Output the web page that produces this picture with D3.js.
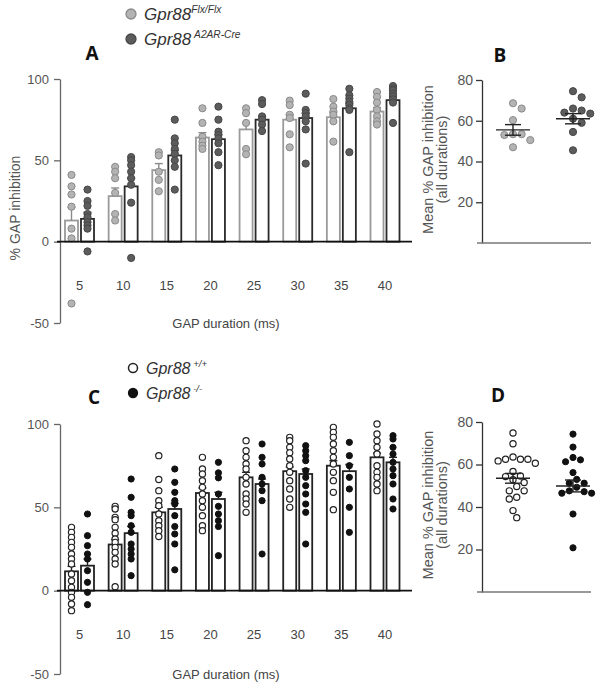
<!DOCTYPE html>
<html>
<head>
<meta charset="utf-8">
<script src="https://cdn.jsdelivr.net/npm/d3@7"></script>
<style>
  body { margin: 0; background: #fff; }
  svg text { font-family: 'Liberation Sans', Arial, sans-serif; }
</style>
</head>
<body>
<div id="chart"></div>
<script>
const durations = [5, 10, 15, 20, 25, 30, 35, 40];

// Panel A : Gpr88 Flx/Flx vs A2AR-Cre
const flxMean = [13, 28, 44, 64, 69, 75, 76.5, 80];
const flxSem = [8, 5, 4, 3, 4, 3, 3, 2.5];
const flxPoints = [
  [41, 34, 29, 21.5, 8, 2, -38],
  [46, 43, 39, 30, 17, 13],
  [55, 53, 43, 38, 31],
  [82, 73, 64.5, 61.5, 59, 57],
  [82, 79, 73, 57, 53.7],
  [86.7, 84, 78, 76, 66, 58],
  [87.7, 83, 80, 78, 74, 61.5],
  [92, 89, 85.5, 81, 77, 74, 72]
];
const creMean = [14, 34, 53, 63, 75, 76, 82, 87];
const creSem = [4, 5, 3, 3, 2, 3, 3, 2];
const crePoints = [
  [32, 25, 22, 17, 15, 12, 10, 8, -6],
  [52, 50, 47, 43, 39, 35, 24, -10],
  [75, 63.5, 60.5, 57, 54, 50, 46, 32],
  [83, 75, 67.6, 65.5, 63.5, 60.5, 55, 47],
  [87, 84.6, 77, 75, 72, 68],
  [91, 81, 79, 77, 74, 69, 48],
  [94, 90, 88, 86, 84, 82, 81, 55],
  [95.7, 94, 93, 91, 89.5, 87.5, 85.5, 73]
];

// Panel B : mean over all durations
const flxAll = [53, 66, 68.6, 60.3, 47, 53.4, 50.5, 53.4];
const creAll = [74.5, 71.5, 64, 59, 63.5, 65, 66, 61, 54.5, 45.5];
const bStats = [{ mean: 55.5, sem: 2.6 }, { mean: 61, sem: 2.5 }];

// Panel C : Gpr88 +/+ vs -/-
const wtMean = [11.6, 27.7, 47, 58.6, 68, 71.7, 75, 80];
const wtSem = [3, 3, 3, 3, 3, 2.5, 3, 2.5];
const wtPoints = [
  [38, 35, 32, 29, 26, 22, 19, 16, 10, 6, 2, -1, -4, -8, -12],
  [50.6, 49, 44, 42.6, 38, 34.5, 31, 29, 26, 23, 19, 16, 2.4],
  [81, 66.7, 60, 54, 51, 46, 42, 39, 36, 32.5],
  [80, 73, 70, 66, 62, 58, 54, 50, 45, 39, 36],
  [90, 84, 80, 76, 73, 68, 64, 58, 55, 52, 47],
  [92, 90, 86, 82.7, 79, 75, 71, 66, 61, 55, 50],
  [98, 95, 92, 88, 84, 80, 76, 71, 66, 59, 48.6],
  [100, 94, 90, 86, 82, 75, 71, 68, 64, 60]
];
const koMean = [15, 34.5, 49, 55, 64, 70, 71.7, 77];
const koSem = [4, 4, 3.5, 4, 3, 3, 4, 3];
const koPoints = [
  [46, 33, 27, 22, 19, 12, 5, -1, -8.4],
  [67, 56, 47, 45, 39, 35, 28, 25, 22, 19, 9],
  [73, 65, 59, 54, 52, 45, 38.5, 34, 28, 12.5],
  [77, 70.7, 67.7, 58, 50.6, 46, 42, 38.5, 21],
  [88, 80, 76, 68, 64, 60, 54, 22],
  [87, 84, 81, 78, 72, 68, 63, 58, 52, 47, 28],
  [89, 81, 75, 68, 61, 50, 35],
  [93, 91, 86, 82, 77, 73, 69, 64, 55, 49]
];

// Panel D
const wtAll = [74.8, 69.8, 62.5, 62.5, 61.7, 63.5, 62.5, 60.6, 56.7, 54.6, 54.3, 52.8, 51.5, 49.6, 47.6, 47.6, 44.6, 43.8, 38.3, 35];
const koAll = [74.3, 68.2, 63.3, 61.3, 62.2, 56.2, 53, 51.2, 51.2, 49.3, 47.6, 46.5, 47.2, 46.5, 36.7, 20.8];
const dStats = [{ mean: 53.5, sem: 2.3 }, { mean: 49.9, sem: 2.8 }];

const svg = d3.select('#chart').
  append('svg').
  attr('width', 604).
  attr('height', 686);

const font = 'Liberation Sans, Arial, sans-serif';

// bar panels (A and C)
function barPanel(opt) {
  const x = d3.scalePoint().domain(durations).range([79.5, 385]);
  const y = d3.scaleLinear().domain([-50, 100]).range(opt.yRange);
  const g = svg.append('g');

  const yAxis = d3.axisLeft(y).
    tickValues([-50, 0, 50, 100]).
    tickFormat(d => String(d)).
    tickSize(6).
    tickSizeOuter(0).
    tickPadding(5);
  g.append('g').
    attr('transform', 'translate(60,0)').
    call(yAxis).
    call(a => a.select('.domain').attr('stroke', '#666').attr('stroke-width', 1.3)).
    call(a => a.selectAll('.tick line').attr('stroke', '#666').attr('stroke-width', 1.3)).
    call(a => a.selectAll('.tick text').attr('fill', '#555').style('font-size', '13px').style('font-family', font));

  const groups = [
    { mean: opt.m1, sem: opt.s1, pts: opt.p1, side: -1, stroke: opt.bar1, err: opt.err1, dot: opt.dot1 },
    { mean: opt.m2, sem: opt.s2, pts: opt.p2, side: 1, stroke: opt.bar2, err: opt.err2, dot: opt.dot2 }
  ];
  const bw = 13;

  groups.forEach(gr => {
    const cx = d => x(d) + gr.side * (bw / 2 + 1.5);
    g.append('g').
      selectAll('rect').
      data(durations).
      enter().
      append('rect').
      attr('x', d => cx(d) - bw / 2).
      attr('width', bw).
      attr('y', (d, i) => y(gr.mean[i])).
      attr('height', (d, i) => y(0) - y(gr.mean[i])).
      attr('fill', '#fff').
      attr('stroke', gr.stroke).
      attr('stroke-width', 1.8);

    const err = g.append('g').
      selectAll('g').
      data(durations).
      enter().
      append('g').
      attr('stroke', gr.err).
      attr('stroke-width', 1.4);
    err.append('line').
      attr('x1', d => cx(d)).
      attr('x2', d => cx(d)).
      attr('y1', (d, i) => y(gr.mean[i])).
      attr('y2', (d, i) => y(gr.mean[i] + gr.sem[i]));
    err.append('line').
      attr('x1', d => cx(d) - 4).
      attr('x2', d => cx(d) + 4).
      attr('y1', (d, i) => y(gr.mean[i] + gr.sem[i])).
      attr('y2', (d, i) => y(gr.mean[i] + gr.sem[i]));

    const flat = [];
    gr.pts.forEach((arr, i) => arr.forEach(v => flat.push({ d: durations[i], v: v })));
    g.append('g').
      selectAll('circle').
      data(flat).
      enter().
      append('circle').
      attr('cx', p => cx(p.d)).
      attr('cy', p => y(p.v)).
      attr('r', gr.dot.r).
      attr('fill', gr.dot.fill).
      attr('stroke', gr.dot.stroke).
      attr('stroke-width', gr.dot.sw);
  });

  // zero baseline
  g.append('line').
    attr('x1', 57).
    attr('x2', 412).
    attr('y1', y(0)).
    attr('y2', y(0)).
    attr('stroke', '#111').
    attr('stroke-width', 1.8);

  g.append('g').
    selectAll('text').
    data(durations).
    enter().
    append('text').
    attr('x', d => x(d)).
    attr('y', y(0) + 48).
    attr('text-anchor', 'middle').
    attr('fill', '#444').
    style('font-size', '13px').
    text(d => d);

  g.append('text').
    attr('x', 226).
    attr('y', opt.yRange[0] + 5).
    attr('text-anchor', 'middle').
    attr('fill', '#444').
    style('font-size', '13px').
    text('GAP duration (ms)');
}

// summary scatter panels (B and D): simple swarm so equal values spread sideways
function swarm(values, y, center, r) {
  const placed = [];
  const order = values.map((v, i) => i).sort((a, b) => values[b] - values[a]);
  const out = new Array(values.length);
  const minD = 2 * r + 1.2;
  order.forEach(i => {
    const py = y(values[i]);
    let k = 0;
    let px = center;
    while (true) {
      const step = Math.ceil(k / 2) * (k % 2 ? 1 : -1);
      px = center + step * (r * 1.2);
      const hit = placed.some(p => Math.hypot(p[0] - px, p[1] - py) < minD);
      if (!hit) break;
      k++;
    }
    placed.push([px, py]);
    out[i] = { x: px, y: py };
  });
  return out;
}

function dotPanel(opt) {
  const y = d3.scaleLinear().domain([0, 80]).range(opt.yRange);
  const g = svg.append('g');
  const centers = [513, 573];

  const yAxis = d3.axisLeft(y).
    tickValues([20, 40, 60, 80]).
    tickSize(6).
    tickSizeOuter(0).
    tickPadding(3);
  g.append('g').
    attr('transform', 'translate(482,0)').
    call(yAxis).
    call(a => a.select('.domain').attr('stroke', '#333').attr('stroke-width', 1.3)).
    call(a => a.selectAll('.tick line').attr('stroke', '#333').attr('stroke-width', 1.3)).
    call(a => a.selectAll('.tick text').attr('fill', '#555').style('font-size', '14px').style('font-family', font));

  g.append('line').
    attr('x1', 477).
    attr('x2', 591).
    attr('y1', y(0)).
    attr('y2', y(0)).
    attr('stroke', '#777').
    attr('stroke-width', 1.5);

  [opt.v1, opt.v2].forEach((vals, gi) => {
    const dot = gi === 0 ? opt.dot1 : opt.dot2;
    const pos = swarm(vals, y, centers[gi], dot.r);
    g.append('g').
      selectAll('circle').
      data(pos).
      enter().
      append('circle').
      attr('cx', p => p.x).
      attr('cy', p => p.y).
      attr('r', dot.r).
      attr('fill', dot.fill).
      attr('stroke', dot.stroke).
      attr('stroke-width', dot.sw);

    const st = opt.stats[gi];
    const c = centers[gi];
    const e = g.append('g').attr('stroke', '#222').attr('stroke-width', 1.4);
    e.append('line').attr('x1', c - 17).attr('x2', c + 17).attr('y1', y(st.mean)).attr('y2', y(st.mean));
    e.append('line').attr('x1', c).attr('x2', c).attr('y1', y(st.mean - st.sem)).attr('y2', y(st.mean + st.sem));
    e.append('line').attr('x1', c - 8).attr('x2', c + 8).attr('y1', y(st.mean - st.sem)).attr('y2', y(st.mean - st.sem));
    e.append('line').attr('x1', c - 8).attr('x2', c + 8).attr('y1', y(st.mean + st.sem)).attr('y2', y(st.mean + st.sem));
  });

  const mid = (opt.yRange[0] + opt.yRange[1]) / 2 - 2;
  const lab = g.append('text').
    attr('transform', 'translate(433,' + mid + ') rotate(-90)').
    attr('text-anchor', 'middle').
    attr('fill', '#555').
    style('font-size', '14.5px');
  lab.append('tspan').attr('x', 0).attr('dy', 0).text('Mean %  GAP inhibition');
  lab.append('tspan').attr('x', 0).attr('dy', 14).text('(all durations)');
}

const grayDot = { r: 3.6, fill: '#b3b3b3', stroke: '#8a8a8a', sw: 1 };
const darkDot = { r: 3.6, fill: '#5c5c5c', stroke: '#474747', sw: 1 };
const openDot = { r: 3.1, fill: '#fff', stroke: '#222', sw: 1.2 };
const fillDot = { r: 3.1, fill: '#111', stroke: '#111', sw: 1 };

barPanel({
  yRange: [323, 79],
  m1: flxMean, s1: flxSem, p1: flxPoints, bar1: '#9a9a9a', err1: '#8a8a8a', dot1: grayDot,
  m2: creMean, s2: creSem, p2: crePoints, bar2: '#2a2a2a', err2: '#2a2a2a', dot2: darkDot
});
barPanel({
  yRange: [674, 424],
  m1: wtMean, s1: wtSem, p1: wtPoints, bar1: '#222', err1: '#222', dot1: openDot,
  m2: koMean, s2: koSem, p2: koPoints, bar2: '#222', err2: '#222', dot2: fillDot
});
dotPanel({ yRange: [243, 80], v1: flxAll, v2: creAll, stats: bStats, dot1: grayDot, dot2: darkDot });
dotPanel({ yRange: [592, 422], v1: wtAll, v2: koAll, stats: dStats, dot1: openDot, dot2: fillDot });

// y label for A
svg.append('text').
  attr('transform', 'translate(20,208) rotate(-90)').
  attr('text-anchor', 'middle').
  attr('fill', '#555').
  style('font-size', '14px').
  text('% GAP inhibition');

// panel letters
[['A', 92, 60], ['B', 500, 62], ['C', 94, 404], ['D', 498, 402]].forEach(l => {
  svg.append('text').
    attr('x', l[1]).
    attr('y', l[2]).
    attr('text-anchor', 'middle').
    attr('fill', '#111').
    style('font-size', '19px').
    style('font-weight', 'bold').
    style('font-family', 'Open Sans, Liberation Sans, sans-serif').
    text(l[0]);
});

// legends
function legendItem(cx, cy, dot, r, sup, size) {
  svg.append('circle').
    attr('cx', cx).
    attr('cy', cy).
    attr('r', r).
    attr('fill', dot.fill).
    attr('stroke', dot.stroke).
    attr('stroke-width', dot.sw + 0.3);
  const t = svg.append('text').
    attr('x', cx + 13).
    attr('y', cy + 6).
    attr('fill', '#333').
    style('font-style', 'italic').
    style('font-size', size + 'px');
  t.append('tspan').text('Gpr88');
  t.append('tspan').
    attr('dy', -7).
    style('font-size', (size * 0.6) + 'px').
    text(sup);
}
legendItem(131, 14, grayDot, 5, 'Flx/Flx', 17);
legendItem(131, 39, darkDot, 5, '\u00a0A2AR-Cre', 17);
legendItem(133, 368, openDot, 4.5, '\u00a0+/+', 16);
legendItem(133, 393, fillDot, 4.5, '\u00a0-/-', 16);
</script>
</body>
</html>
